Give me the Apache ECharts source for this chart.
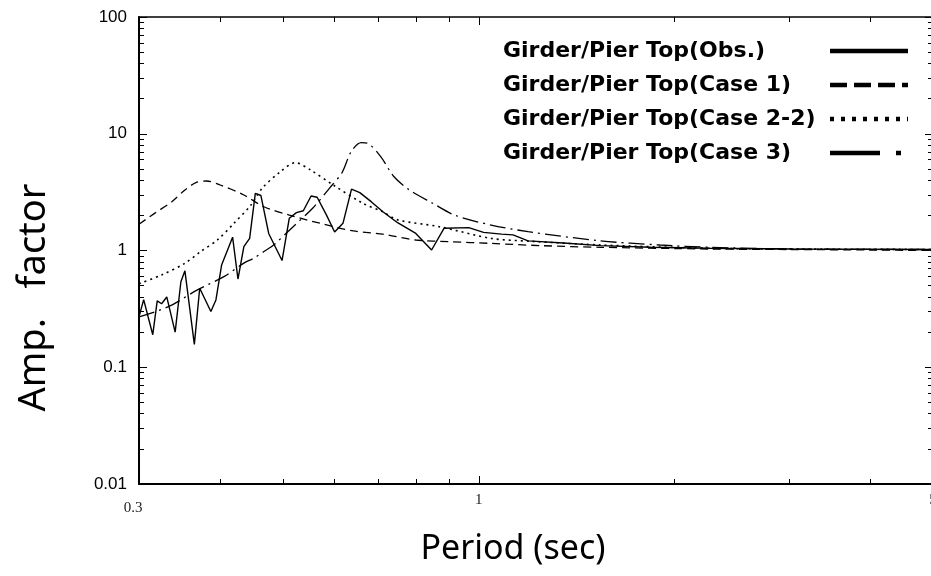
<!DOCTYPE html>
<html><head><meta charset="utf-8">
<script src="https://cdn.jsdelivr.net/npm/echarts@6/dist/echarts.min.js"></script>
<style>html,body{margin:0;padding:0;background:#fff}#c{width:931px;height:576px}</style>
</head><body><div id="c"></div>
<script>
const seriesNames = ['Girder/Pier Top(Obs.)', 'Girder/Pier Top(Case 1)', 'Girder/Pier Top(Case 2-2)', 'Girder/Pier Top(Case 3)'];

const obsPeriod = [0.300,0.305,0.315,0.320,0.325,0.331,0.341,0.348,0.353,0.365,0.372,0.387,0.394,0.402,0.418,0.426,0.435,0.444,0.453,0.462,0.475,0.498,0.511,0.524,0.537,0.552,0.564,0.583,0.600,0.618,0.637,0.656,0.683,0.712,0.750,0.800,0.846,0.884,0.965,1.017,1.084,1.129,1.191,1.35,1.54,1.84,2.27,3.05,5.0];
const obsAmp    = [0.27,0.38,0.19,0.37,0.35,0.40,0.20,0.54,0.67,0.157,0.475,0.30,0.377,0.75,1.30,0.57,1.08,1.27,3.09,2.96,1.40,0.82,1.89,2.11,2.19,2.93,2.86,2.01,1.44,1.71,3.36,3.13,2.62,2.15,1.73,1.40,1.01,1.55,1.57,1.43,1.38,1.36,1.21,1.16,1.10,1.065,1.044,1.03,1.02];

const case1Period = [0.300,0.317,0.337,0.353,0.367,0.381,0.400,0.435,0.467,0.511,0.570,0.641,0.712,0.800,0.900,1.045,1.250,1.540,2.270,3.0,4.0,5.0];
const case1Amp    = [1.68,2.08,2.62,3.30,3.81,3.94,3.64,2.99,2.37,2.01,1.71,1.47,1.38,1.23,1.19,1.15,1.10,1.065,1.03,1.02,1.01,1.00];

const case22Period = [0.300,0.325,0.353,0.373,0.396,0.420,0.446,0.464,0.495,0.522,0.551,0.597,0.663,0.711,0.750,0.869,1.045,1.200,1.540,2.270,3.0,5.0];
const case22Amp    = [0.52,0.617,0.777,0.977,1.23,1.71,2.45,3.41,4.73,5.65,4.89,3.64,2.54,2.15,1.83,1.60,1.27,1.20,1.115,1.044,1.03,1.02];

const case3Period = [0.300,0.333,0.369,0.406,0.435,0.451,0.467,0.483,0.518,0.555,0.589,0.616,0.636,0.659,0.674,0.706,0.740,0.782,0.849,0.918,1.045,1.191,1.539,1.900,2.270,3.0,5.0];
const case3Amp    = [0.27,0.33,0.46,0.60,0.78,0.86,0.98,1.11,1.60,2.30,3.41,4.65,7.0,8.4,8.3,6.4,4.3,3.30,2.54,2.01,1.65,1.45,1.21,1.115,1.065,1.03,1.02];

const xLabelValues = [0.3, 1, 5];
const xMinorTicks = [0.4,0.5,0.6,0.7,0.8,0.9,2,3,4];
const yMinorTicks = [0.02,0.03,0.04,0.05,0.06,0.07,0.08,0.09,0.2,0.3,0.4,0.5,0.6,0.7,0.8,0.9,2,3,4,5,6,7,8,9,20,30,40,50,60,70,80,90];
const xTitle = 'Period (sec)';
const yTitle = 'Amp.   factor';

const pairs = (xs, ys) => xs.map((x, i) => [x, ys[i]]);
const fmt = v => String(+(+v).toPrecision(3));
const black = '#000';

const baseX = {type:'log', logBase:10, min:0.3, max:5, splitLine:{show:false}};
const baseY = {type:'log', logBase:10, min:0.01, max:100, splitLine:{show:false}};

const chart = echarts.init(document.getElementById('c'), null, {renderer:'canvas'});
chart.setOption({
  animation:false,
  backgroundColor:'#fff',
  grid:{left:139, top:17, width:794, height:467, containLabel:false, outerBoundsMode:'none'},
  legend:{
    orient:'vertical', left:503, top:39, padding:0, align:'right', itemGap:10,
    itemWidth:78, itemHeight:14,
    formatter: name => '{t|' + name + '}',
    textStyle:{fontFamily:'DejaVu Sans', fontWeight:'bold', fontSize:22, color:'#000', lineHeight:24,
      rich:{t:{fontFamily:'DejaVu Sans', fontWeight:'bold', fontSize:22, color:'#000', width:322, align:'left', lineHeight:24}}},
    itemStyle:{opacity:0},
    lineStyle:{width:4.5, color:'#000'},
    data:[
      {name:seriesNames[0], lineStyle:{type:'solid'}},
      {name:seriesNames[1], lineStyle:{type:[17,7]}},
      {name:seriesNames[2], lineStyle:{type:[4,7]}},
      {name:seriesNames[3], lineStyle:{type:[50,16,5,20]}}
    ]
  },
  xAxis:[
    Object.assign({}, baseX, {position:'bottom',
      name:xTitle, nameLocation:'middle', nameGap:48,
      nameTextStyle:{fontFamily:'Noto Sans', fontSize:34, color:'#000', padding:[0,46,0,0]},
      axisLine:{show:true, lineStyle:{color:black, width:2}},
      axisTick:{show:true, inside:true, length:5, customValues:xMinorTicks, lineStyle:{color:black, width:1}},
      axisLabel:{show:true, customValues:xLabelValues, margin:9, fontFamily:'Liberation Serif', fontSize:15, color:'#222',
        formatter: v => (Math.abs(v - 0.3) < 1e-6 ? '{lo|' + fmt(v) + '}' : fmt(v)),
        rich:{lo:{fontFamily:'Liberation Serif', fontSize:15, color:'#222', padding:[8,12,0,0]}}}
    }),
    Object.assign({}, baseX, {position:'bottom',
      axisLine:{show:false}, axisLabel:{show:false},
      axisTick:{show:true, inside:true, length:8, lineStyle:{color:black, width:1}}}),
    Object.assign({}, baseX, {position:'top',
      axisLine:{show:true, lineStyle:{color:black, width:1.5}}, axisLabel:{show:false},
      axisTick:{show:true, inside:true, length:5, customValues:xMinorTicks, lineStyle:{color:black, width:1}}}),
    Object.assign({}, baseX, {position:'top',
      axisLine:{show:false}, axisLabel:{show:false},
      axisTick:{show:true, inside:true, length:8, lineStyle:{color:black, width:1}}})
  ],
  yAxis:[
    Object.assign({}, baseY, {position:'left',
      name:yTitle, nameLocation:'middle', nameGap:86, nameRotate:90,
      nameTextStyle:{fontFamily:'Noto Sans', fontSize:38, color:'#000', padding:[0,94,0,0]},
      axisLine:{show:true, lineStyle:{color:black, width:2}},
      axisTick:{show:true, inside:true, length:5, customValues:yMinorTicks, lineStyle:{color:black, width:1}},
      axisLabel:{show:true, margin:12, fontFamily:'Liberation Sans', fontSize:17, color:'#000', formatter:fmt}
    }),
    Object.assign({}, baseY, {position:'left',
      axisLine:{show:false}, axisLabel:{show:false},
      axisTick:{show:true, inside:true, length:8, lineStyle:{color:black, width:1}}}),
    Object.assign({}, baseY, {position:'right',
      axisLine:{show:true, lineStyle:{color:black, width:1.5}}, axisLabel:{show:false},
      axisTick:{show:true, inside:true, length:5, customValues:yMinorTicks, lineStyle:{color:black, width:1}}}),
    Object.assign({}, baseY, {position:'right',
      axisLine:{show:false}, axisLabel:{show:false},
      axisTick:{show:true, inside:true, length:8, lineStyle:{color:black, width:1}}})
  ],
  series:[
    {name:seriesNames[0], type:'line', xAxisIndex:0, yAxisIndex:0, data:pairs(obsPeriod, obsAmp),
     symbol:'none', showSymbol:false, lineStyle:{color:black, width:1.4, type:'solid'}, itemStyle:{color:black}, z:5},
    {name:seriesNames[1], type:'line', xAxisIndex:0, yAxisIndex:0, data:pairs(case1Period, case1Amp), smooth:0.3,
     symbol:'none', showSymbol:false, lineStyle:{color:black, width:1.3, type:[8,5]}, itemStyle:{color:black}},
    {name:seriesNames[2], type:'line', xAxisIndex:0, yAxisIndex:0, data:pairs(case22Period, case22Amp), smooth:0.3,
     symbol:'none', showSymbol:false, lineStyle:{color:black, width:1.6, type:[2,4]}, itemStyle:{color:black}},
    {name:seriesNames[3], type:'line', xAxisIndex:0, yAxisIndex:0, data:pairs(case3Period, case3Amp), smooth:0.3,
     symbol:'none', showSymbol:false, lineStyle:{color:black, width:1.3, type:[16,5,2,5]}, itemStyle:{color:black}}
  ]
});
</script>
</body></html>
